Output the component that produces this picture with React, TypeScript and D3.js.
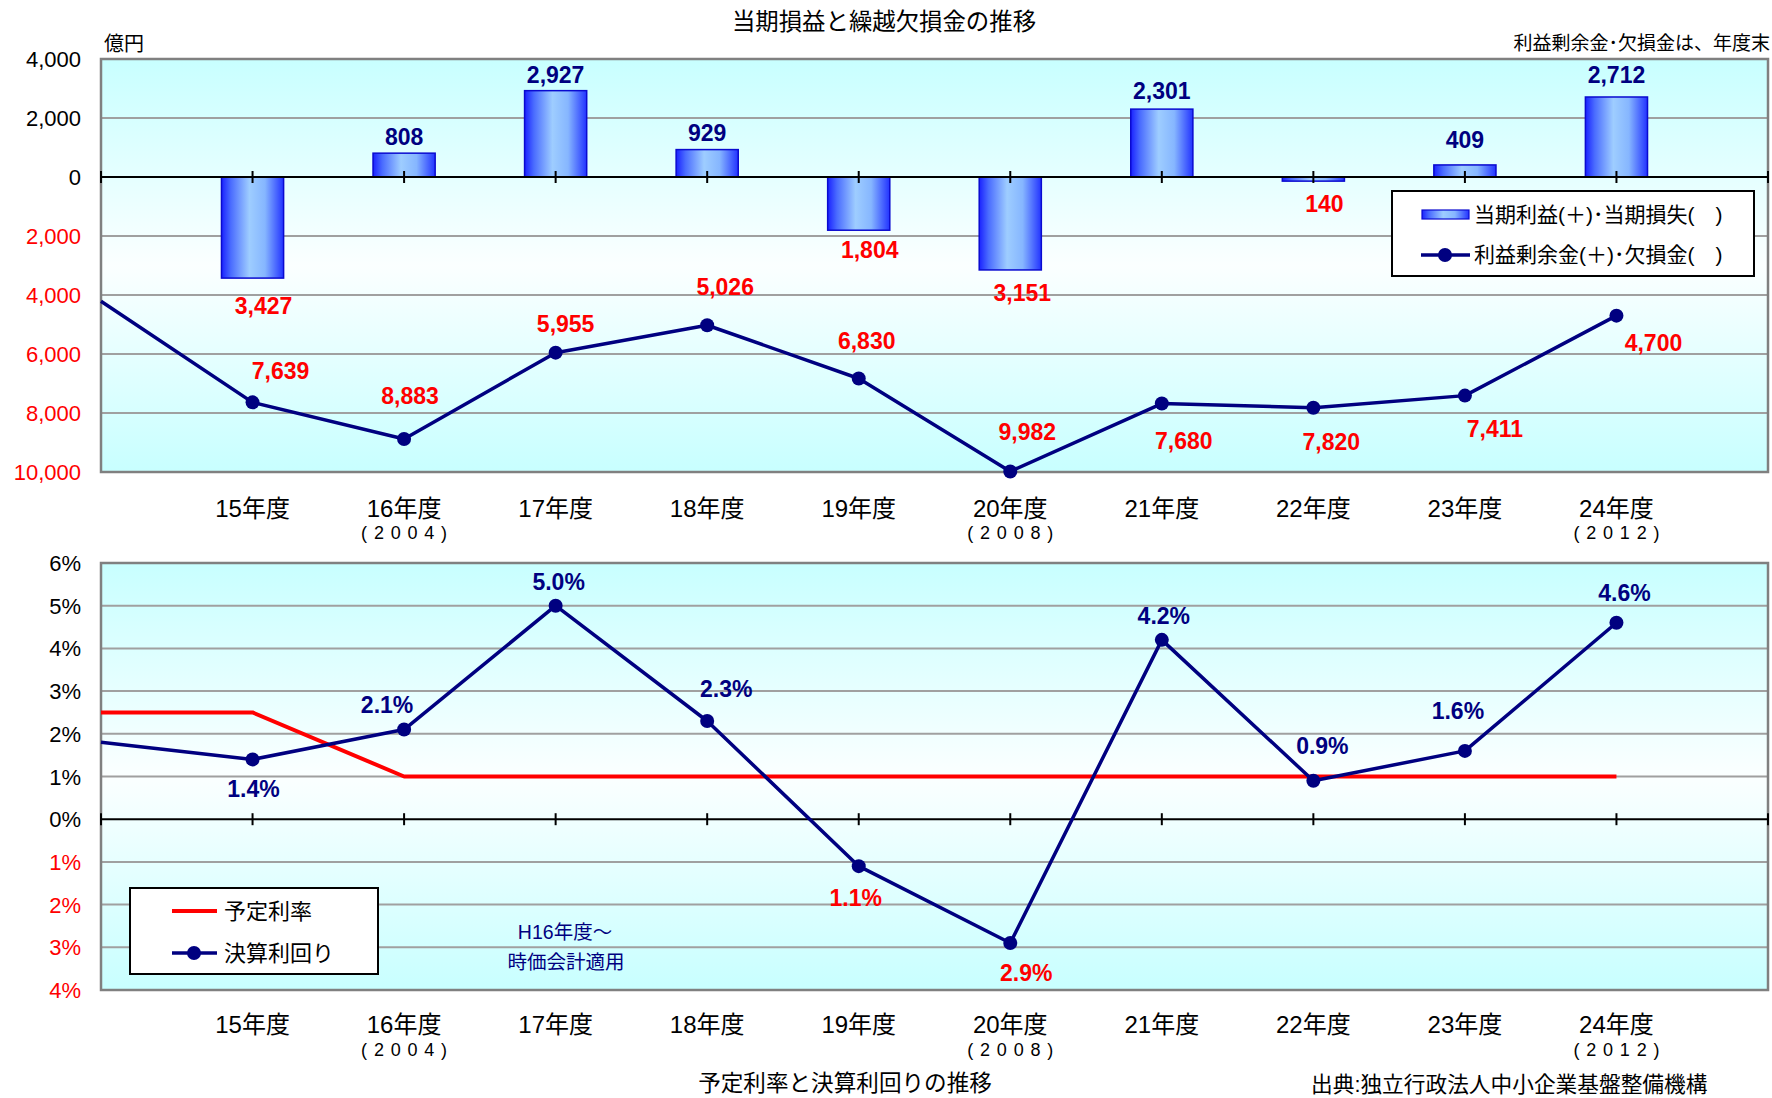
import React from "react";
import * as d3 from "d3";

// Fiscal years (平成). The first and last slots sit on the plot edges.
const years = ["H14", "H15", "H16", "H17", "H18", "H19", "H20", "H21", "H22", "H23", "H24", "H25"];
const yearLabels = ["", "15年度", "16年度", "17年度", "18年度", "19年度", "20年度", "21年度", "22年度", "23年度", "24年度", ""];
const westernYears = ["", "", "(2004)", "", "", "", "(2008)", "", "", "", "(2012)", ""];

// 当期損益 (億円)
const netIncome: (number | null)[] = [null, -3427, 808, 2927, 929, -1804, -3151, 2301, -140, 409, 2712, null];
// 利益剰余金(+)・欠損金(-) at fiscal year end (億円)
const retainedEarnings: (number | null)[] = [-4212, -7639, -8883, -5955, -5026, -6830, -9982, -7680, -7820, -7411, -4700, null];
// 予定利率 (%)
const assumedRate: (number | null)[] = [2.5, 2.5, 1.0, 1.0, 1.0, 1.0, 1.0, 1.0, 1.0, 1.0, 1.0, null];
// 決算利回り (%)
const actualYield: (number | null)[] = [1.8, 1.4, 2.1, 5.0, 2.3, -1.1, -2.9, 4.2, 0.9, 1.6, 4.6, null];

const moneyTicks = [4000, 2000, 0, -2000, -4000, -6000, -8000, -10000];
const rateTicks = [6, 5, 4, 3, 2, 1, 0, -1, -2, -3, -4];

// Label placement (dx, dy of the text centre) relative to the bar end / point
const barLabelShift: ([number, number] | null)[] = [
  null, [11, 28], [0, -16], [0, -16], [0, -17], [11, 20], [12, 23], [0, -18], [11, 23], [0, -25], [0, -22], null,
];
const retainedLabelShift: ([number, number] | null)[] = [
  null, [28, -31], [6, -43], [10, -29], [18, -38], [8, -37], [17, -39], [22, 37], [18, 34], [30, 33], [37, 27], null,
];
const yieldLabelShift: ([number, number] | null)[] = [
  null, [1, 30], [-17, -25], [3, -24], [19, -32], [-3, 32], [16, 30], [2, -24], [9, -35], [-7, -40], [8, -30], null,
];

const W = 1772;
const H = 1098;
const LEFT = 101;
const RIGHT = 1768;
const TOP1 = 59;
const BOTTOM1 = 472;
const TOP2 = 563;
const BOTTOM2 = 990;

const NAVY = "#000080";
const RED = "#ff0000";
const GRID = "#a0a0a0";
const FONT = "'Liberation Sans', Arial, 'Noto Sans CJK JP', sans-serif";

const x = d3.scalePoint<string>().domain(years).range([LEFT, RIGHT]);
const yMoney = d3.scaleLinear().domain([4000, -10000]).range([TOP1, BOTTOM1]);
const yRate = d3.scaleLinear().domain([6, -4]).range([TOP2, BOTTOM2]);

const fmtMoney = d3.format(",");
const fmtRate = d3.format(".1f");

function PlotFrame({ top, bottom, ticks, y, fmt, zero }: any) {
  return (
    <g>
      <rect x={LEFT} y={top} width={RIGHT - LEFT} height={bottom - top} fill="url(#plotBg)" />
      {ticks
        .filter((t: number) => t !== zero && y(t) > top + 1 && y(t) < bottom - 1)
        .map((t: number) => (
          <line key={t} x1={LEFT} x2={RIGHT} y1={y(t)} y2={y(t)} stroke={GRID} strokeWidth={2} />
        ))}
      <rect x={LEFT} y={top} width={RIGHT - LEFT} height={bottom - top} fill="none" stroke="#808080" strokeWidth={2.5} />
      {ticks.map((t: number) => (
        <text
          key={"l" + t}
          x={81}
          y={y(t) + 8}
          textAnchor="end"
          fontFamily={FONT}
          fontSize={22}
          fill={t < 0 ? RED : "#000"}
        >
          {fmt(t)}
        </text>
      ))}
    </g>
  );
}

function ZeroAxis({ yPos }: { yPos: number }) {
  return (
    <g>
      <line x1={LEFT} x2={RIGHT} y1={yPos} y2={yPos} stroke="#000" strokeWidth={2} />
      {years.map((yr) => (
        <line key={yr} x1={x(yr)} x2={x(yr)} y1={yPos - 6} y2={yPos + 6} stroke="#000" strokeWidth={2} />
      ))}
    </g>
  );
}

function CategoryLabels({ base, subBase }: { base: number; subBase: number }) {
  return (
    <g fontFamily={FONT}>
      {years.map((yr, i) =>
        yearLabels[i] ? (
          <text key={yr} x={x(yr)} y={base} textAnchor="middle" fontSize={24} fill="#000">
            {yearLabels[i]}
          </text>
        ) : null
      )}
      {years.map((yr, i) =>
        westernYears[i] ? (
          <text
            key={"w" + yr}
            x={(x(yr) as number) - 43}
            y={subBase}
            fontSize={18}
            fill="#000"
            textLength={86}
            lengthAdjust="spacing"
          >
            {westernYears[i]}
          </text>
        ) : null
      )}
    </g>
  );
}

export default function App() {
  const step = x.step();
  const barW = step * 0.41;
  const zero1 = yMoney(0);
  const zero2 = yRate(0);

  const moneyLine = d3
    .line<number | null>()
    .defined((d) => d != null)
    .x((_, i) => x(years[i]) as number)
    .y((d) => yMoney(d as number));

  const rateLine = (vals: (number | null)[]) =>
    d3
      .line<number | null>()
      .defined((d) => d != null)
      .x((_, i) => x(years[i]) as number)
      .y((d) => yRate(d as number))(vals) as string;

  return (
    <svg width={W} height={H} style={{ position: "absolute", left: 0, top: 0, background: "#fff" }}>
      <defs>
        <linearGradient id="plotBg" x1="0" y1="0" x2="0" y2="1">
          <stop offset="0" stopColor="#c8ffff" />
          <stop offset="0.5" stopColor="#fbffff" />
          <stop offset="1" stopColor="#c8ffff" />
        </linearGradient>
        <linearGradient id="barGrad" x1="0" y1="0" x2="1" y2="0">
          <stop offset="0" stopColor="#1a22ff" />
          <stop offset="0.15" stopColor="#4a6cff" />
          <stop offset="0.45" stopColor="#9ecdff" />
          <stop offset="0.7" stopColor="#86b6ff" />
          <stop offset="1" stopColor="#2233ff" />
        </linearGradient>
      </defs>

      {/* ---------- 当期損益と繰越欠損金の推移 ---------- */}
      <text x={884} y={30} textAnchor="middle" fontFamily={FONT} fontSize={23.4} fill="#000">
        当期損益と繰越欠損金の推移
      </text>
      <text x={104} y={51} fontFamily={FONT} fontSize={20} fill="#000">
        億円
      </text>
      <text x={1770} y={50} textAnchor="end" fontFamily={FONT} fontSize={19} fill="#000">
        利益剰余金･欠損金は、年度末
      </text>

      <PlotFrame
        top={TOP1}
        bottom={BOTTOM1}
        ticks={moneyTicks}
        y={yMoney}
        zero={0}
        fmt={(v: number) => fmtMoney(Math.abs(v))}
      />

      {netIncome.map((v, i) =>
        v == null ? null : (
          <rect
            key={"b" + i}
            x={(x(years[i]) as number) - barW / 2}
            y={Math.min(yMoney(v), zero1)}
            width={barW}
            height={Math.abs(yMoney(v) - zero1)}
            fill="url(#barGrad)"
            stroke="#0a0ad0"
            strokeWidth={1.5}
          />
        )
      )}

      <ZeroAxis yPos={zero1} />

      <path d={moneyLine(retainedEarnings) as string} fill="none" stroke={NAVY} strokeWidth={3.5} strokeLinejoin="round" />
      {retainedEarnings.map((v, i) =>
        v == null || !yearLabels[i] ? null : (
          <circle key={"m" + i} cx={x(years[i])} cy={yMoney(v)} r={7} fill={NAVY} />
        )
      )}

      <g fontFamily={FONT} fontWeight="bold" fontSize={23} textAnchor="middle">
        {netIncome.map((v, i) => {
          const s = barLabelShift[i];
          if (v == null || !s) return null;
          return (
            <text key={"bl" + i} x={(x(years[i]) as number) + s[0]} y={yMoney(v) + s[1] + 8} fill={v >= 0 ? NAVY : RED}>
              {fmtMoney(Math.abs(v))}
            </text>
          );
        })}
        {retainedEarnings.map((v, i) => {
          const s = retainedLabelShift[i];
          if (v == null || !s) return null;
          return (
            <text key={"rl" + i} x={(x(years[i]) as number) + s[0]} y={yMoney(v) + s[1] + 8} fill={v >= 0 ? NAVY : RED}>
              {fmtMoney(Math.abs(v))}
            </text>
          );
        })}
      </g>

      {/* legend */}
      <g fontFamily={FONT}>
        <rect x={1392} y={191} width={362} height={85} fill="#fff" stroke="#000" strokeWidth={2} />
        <rect x={1422} y={210} width={47} height={9} fill="url(#barGrad)" stroke="#0a0ad0" strokeWidth={1.2} />
        <text x={1474} y={222} fontSize={21} fill="#000">
          当期利益(＋)･当期損失(　)
        </text>
        <line x1={1421} x2={1470} y1={255} y2={255} stroke={NAVY} strokeWidth={3.5} />
        <circle cx={1445} cy={255} r={7} fill={NAVY} />
        <text x={1474} y={262} fontSize={21} fill="#000">
          利益剰余金(＋)･欠損金(　)
        </text>
      </g>

      <CategoryLabels base={517} subBase={539} />

      {/* ---------- 予定利率と決算利回りの推移 ---------- */}
      <PlotFrame
        top={TOP2}
        bottom={BOTTOM2}
        ticks={rateTicks}
        y={yRate}
        zero={0}
        fmt={(v: number) => Math.abs(v) + "%"}
      />
      <ZeroAxis yPos={zero2} />

      <path d={rateLine(assumedRate)} fill="none" stroke={RED} strokeWidth={4} strokeLinejoin="round" />
      <path d={rateLine(actualYield)} fill="none" stroke={NAVY} strokeWidth={3.5} strokeLinejoin="round" />
      {actualYield.map((v, i) =>
        v == null || !yearLabels[i] ? null : (
          <circle key={"y" + i} cx={x(years[i])} cy={yRate(v)} r={7} fill={NAVY} />
        )
      )}

      <g fontFamily={FONT} fontWeight="bold" fontSize={23} textAnchor="middle">
        {actualYield.map((v, i) => {
          const s = yieldLabelShift[i];
          if (v == null || !s) return null;
          return (
            <text key={"yl" + i} x={(x(years[i]) as number) + s[0]} y={yRate(v) + s[1] + 8} fill={v >= 0 ? NAVY : RED}>
              {fmtRate(Math.abs(v)) + "%"}
            </text>
          );
        })}
      </g>

      <g fontFamily={FONT} fontSize={19.5} fill={NAVY} textAnchor="middle">
        <text x={565} y={939}>H16年度～</text>
        <text x={566} y={969}>時価会計適用</text>
      </g>

      {/* legend */}
      <g fontFamily={FONT}>
        <rect x={130} y={888} width={248} height={86} fill="#fff" stroke="#000" strokeWidth={2} />
        <line x1={172} x2={217} y1={911} y2={911} stroke={RED} strokeWidth={4} />
        <text x={224} y={919} fontSize={22} fill="#000">
          予定利率
        </text>
        <line x1={172} x2={217} y1={953} y2={953} stroke={NAVY} strokeWidth={3.5} />
        <circle cx={194} cy={953} r={7} fill={NAVY} />
        <text x={224} y={961} fontSize={22} fill="#000">
          決算利回り
        </text>
      </g>

      <CategoryLabels base={1033} subBase={1056} />

      <text x={845} y={1091} textAnchor="middle" fontFamily={FONT} fontSize={22.6} fill="#000">
        予定利率と決算利回りの推移
      </text>
      <text x={1311} y={1092} fontFamily={FONT} fontSize={21.7} fill="#000">
        出典:独立行政法人中小企業基盤整備機構
      </text>
    </svg>
  );
}
